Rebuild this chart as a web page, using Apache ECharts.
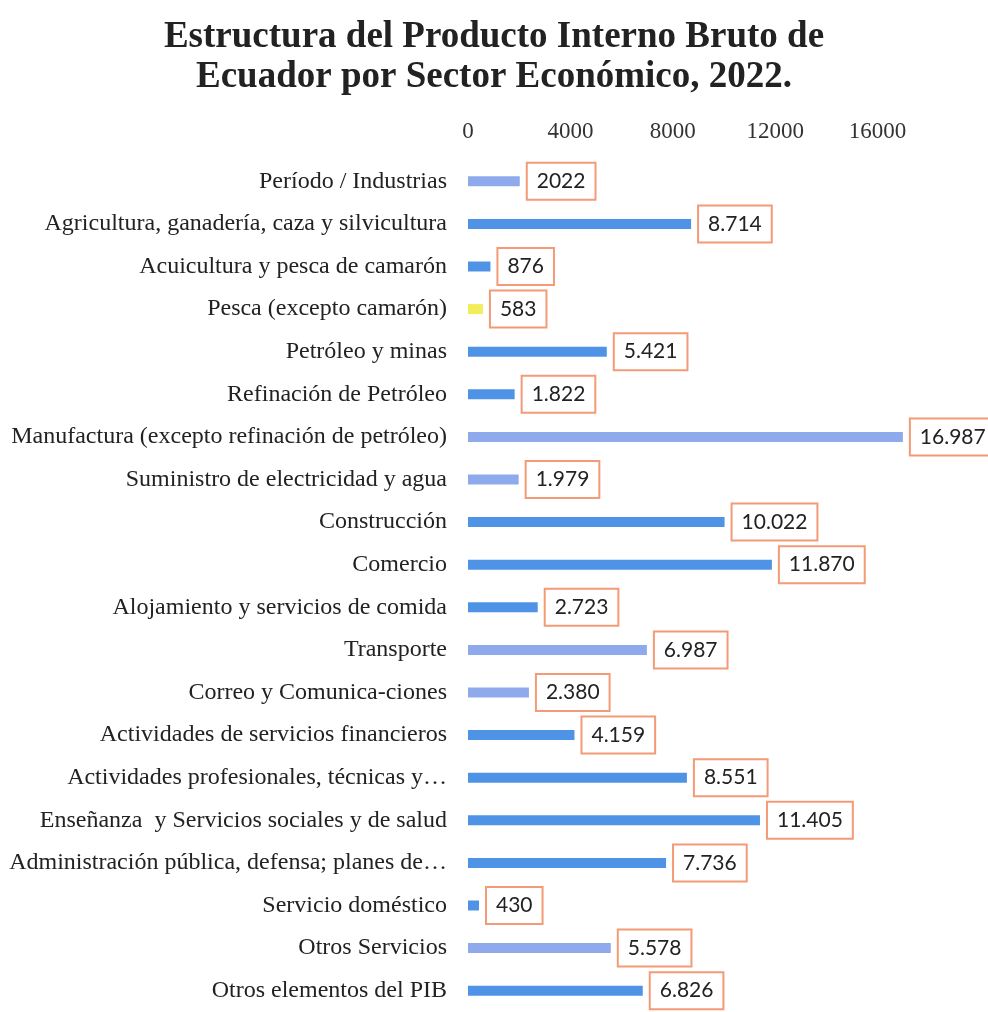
<!DOCTYPE html>
<html>
<head>
<meta charset="utf-8">
<script src="https://cdn.jsdelivr.net/npm/echarts@6/dist/echarts.min.js"></script>
<style>
  html, body { margin: 0; padding: 0; background: #fff; }
  #main { width: 988px; height: 1012px; }
</style>
</head>
<body>
<div id="main"></div>
<script>
// Estructura del PIB de Ecuador por sector, 2022
const sectors = [
  'Período / Industrias',
  'Agricultura, ganadería, caza y silvicultura',
  'Acuicultura y pesca de camarón',
  'Pesca (excepto camarón)',
  'Petróleo y minas',
  'Refinación de Petróleo',
  'Manufactura (excepto refinación de petróleo)',
  'Suministro de electricidad y agua',
  'Construcción',
  'Comercio',
  'Alojamiento y servicios de comida',
  'Transporte',
  'Correo y Comunica-ciones',
  'Actividades de servicios financieros',
  'Actividades profesionales, técnicas y…',
  'Enseñanza  y Servicios sociales y de salud',
  'Administración pública, defensa; planes de…',
  'Servicio doméstico',
  'Otros Servicios',
  'Otros elementos del PIB'
]
const values = [2022, 8714, 876, 583, 5421, 1822, 16987, 1979, 10022, 11870,
  2723, 6987, 2380, 4159, 8551, 11405, 7736, 430, 5578, 6826]
const valueLabels = ['2022', '8.714', '876', '583', '5.421', '1.822', '16.987', '1.979',
  '10.022', '11.870', '2.723', '6.987', '2.380', '4.159', '8.551', '11.405', '7.736',
  '430', '5.578', '6.826']
const axisTicks = [0, 4000, 8000, 12000, 16000]

const light = '#8eaaec'
const blue = '#4f93e6'
const barColors = [light, blue, blue, '#f2ee5a', blue, blue, light, light, blue, blue,
  blue, light, light, blue, blue, blue, blue, blue, light, blue]

let myChart = echarts.init(document.getElementById('main'))
let option = {
  backgroundColor: '#fff',
  title: {
    text: 'Estructura del Producto Interno Bruto de\nEcuador por Sector Económico, 2022.',
    left: 'center',
    top: 12,
    textStyle: {
      fontFamily: 'Liberation Serif',
      fontWeight: 'bold',
      fontSize: 37,
      lineHeight: 40,
      color: '#222'
    }
  },
  grid: {
    left: 468,
    right: 8,
    top: 160,
    height: 861
  },
  xAxis: {
    type: 'value',
    position: 'top',
    min: 0,
    max: 20000,
    interval: 4000,
    axisLine: { show: false },
    axisTick: { show: false },
    splitLine: { show: false },
    axisLabel: {
      showMaxLabel: false,
      margin: 17,
      fontFamily: 'Liberation Serif',
      fontSize: 23,
      color: '#333',
      formatter: function (v) {
        return axisTicks.indexOf(v) >= 0 ? String(v) : ''
      }
    }
  },
  yAxis: {
    type: 'category',
    inverse: true,
    data: sectors,
    axisLine: { show: false },
    axisTick: { show: false },
    axisLabel: {
      interval: 0,
      margin: 21,
      fontFamily: 'Liberation Serif',
      fontSize: 24,
      color: '#222'
    }
  },
  series: [
    {
      type: 'bar',
      barWidth: 10,
      data: values.map(function (v, i) {
        return { value: v, itemStyle: { color: barColors[i] } }
      }),
      label: {
        show: true,
        position: 'right',
        distance: 8,
        fontFamily: 'Lato',
        fontSize: 21,
        color: '#222',
        borderColor: '#f39a76',
        borderWidth: 2,
        padding: [7, 9, 7, 9],
        backgroundColor: '#fff',
        formatter: function (p) {
          return valueLabels[p.dataIndex]
        }
      }
    }
  ]
}
myChart.setOption(option)
</script>
</body>
</html>
